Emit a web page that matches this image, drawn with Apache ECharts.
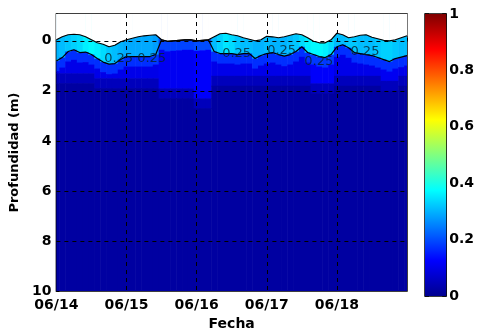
<!DOCTYPE html>
<html><head><meta charset="utf-8">
<script src="https://cdn.jsdelivr.net/npm/echarts@6/dist/echarts.min.js"></script>
<style>html,body{margin:0;padding:0;background:#fff}#c{width:477px;height:336px}</style>
</head><body><div id="c"></div>
<script>
// ---- data ----
const dayLabels = ['06/14','06/15','06/16','06/17','06/18'];
const dayHours = [24,48,72,96];
const depthTicks = [0,2,4,6,8,10];
const colorbarRange = [0,1];
const contourLevel = 0.25;
const hours = [0,2,4,6,8,10,12,14,16,18,20,22,24,26,28,30,32,34,36,38,40,42,44,46,48,50,52,54,56,58,60,62,64,66,68,70,72,74,76,78,80,82,84,86,88,90,92,94,96,98,100,102,104,106,108,110,112,114,116,118,120];
// top of the data (water surface), metres
const surface = [-0.04,-0.16,-0.24,-0.26,-0.24,-0.16,-0.04,0.08,0.14,0.24,0.18,0.04,-0.04,-0.10,-0.16,-0.20,-0.22,-0.24,-0.04,0.02,0.00,-0.02,-0.04,-0.04,0.00,-0.02,-0.04,-0.16,-0.28,-0.30,-0.24,-0.20,-0.12,-0.06,0.00,-0.04,-0.18,-0.16,-0.12,-0.16,-0.22,-0.28,-0.24,-0.12,0.02,0.08,0.08,-0.04,-0.30,-0.24,-0.12,-0.16,-0.22,-0.24,-0.14,-0.08,-0.02,0.00,-0.04,-0.12,-0.20];
// depth of the 0.25 contour, metres
const contour25 = [0.81,0.67,0.43,0.36,0.47,0.45,0.55,0.71,0.85,0.93,0.91,0.75,0.63,0.63,0.63,0.63,0.63,0.55,-0.04,0.02,0.00,-0.02,-0.04,-0.04,0.00,-0.02,-0.04,0.43,0.51,0.51,0.51,0.55,0.51,0.51,0.71,0.59,0.51,0.47,0.55,0.61,0.55,0.43,0.24,0.47,0.55,0.63,0.67,0.55,0.24,0.16,0.28,0.47,0.51,0.55,0.59,0.67,0.75,0.83,0.71,0.65,0.59];
// value above the contour
const upperVal = [0.30,0.31,0.32,0.33,0.34,0.36,0.37,0.36,0.34,0.32,0.31,0.30,0.29,0.29,0.29,0.29,0.29,0.28,0.21,0.21,0.21,0.21,0.21,0.21,0.21,0.21,0.21,0.31,0.33,0.35,0.34,0.32,0.31,0.31,0.30,0.30,0.31,0.30,0.30,0.30,0.31,0.32,0.34,0.36,0.37,0.37,0.36,0.34,0.31,0.31,0.32,0.32,0.31,0.31,0.31,0.32,0.33,0.33,0.32,0.31,0.31];
// value in the band just below the contour
const subVal = [0.17,0.17,0.17,0.17,0.17,0.17,0.17,0.17,0.17,0.17,0.17,0.17,0.17,0.17,0.17,0.17,0.17,0.18,0.19,0.19,0.19,0.19,0.19,0.19,0.20,0.20,0.20,0.17,0.17,0.17,0.17,0.17,0.17,0.17,0.17,0.17,0.17,0.17,0.17,0.17,0.17,0.17,0.17,0.17,0.18,0.18,0.18,0.18,0.17,0.17,0.17,0.17,0.17,0.17,0.17,0.17,0.17,0.17,0.17,0.17,0.17];
// depth reached by the mixed (lighter blue) water and its value
const mixDepth = [1.3,1.3,1.3,1.3,1.3,1.3,1.3,1.5,1.5,1.5,1.5,1.5,1.5,1.5,1.5,1.5,1.5,1.5,1.9,1.9,1.9,1.9,1.9,1.9,2.3,2.3,2.3,1.4,1.4,1.4,1.4,1.4,1.4,1.4,1.4,1.4,1.4,1.4,1.4,1.4,1.4,1.4,1.4,1.4,1.7,1.7,1.7,1.7,1.4,1.4,1.4,1.4,1.4,1.4,1.4,1.4,1.6,1.6,1.6,1.4,1.4];
const midVal = [0.10,0.10,0.10,0.10,0.10,0.10,0.10,0.10,0.10,0.10,0.10,0.10,0.10,0.10,0.10,0.10,0.10,0.10,0.11,0.11,0.11,0.11,0.11,0.11,0.12,0.12,0.12,0.10,0.10,0.10,0.10,0.10,0.10,0.10,0.10,0.10,0.10,0.10,0.10,0.10,0.10,0.10,0.10,0.10,0.12,0.12,0.12,0.12,0.10,0.10,0.10,0.10,0.10,0.10,0.10,0.10,0.11,0.11,0.11,0.10,0.10];
const subBand = 0.4;
const transBand = 0.4;
const transVal = 0.05;
const deepVal = 0.02;
// contour label positions [hour, depth]
const labelPts = [[21.3,0.71],[32.6,0.71],[61.7,0.51],[77.1,0.40],[89.8,0.83],[105.6,0.43]];
const jetColors = ['#00008F','#0000FF','#0080FF','#00FFFF','#80FF80','#FFFF00','#FF8000','#FF0000','#800000'];

const yMin = -1.07, yMax = 10, colW = 2;

// ---- build cells (layers per time column) ----
const cells = [];
for (let i = 0; i < hours.length; i++) {
  const c = contour25[i];
  const mTop = Math.max(mixDepth[i], c + subBand);
  const layers = [
    [yMin, c, upperVal[i]],
    [c, c + subBand, subVal[i]],
    [c + subBand, mixDepth[i], midVal[i]],
    [mTop, mTop + transBand, transVal],
    [mTop + transBand, yMax, deepVal]
  ];
  layers.forEach(l => { if (l[1] > l[0]) cells.push([hours[i], l[0], l[1], l[2]]); });
}
// segments of the surface, used to blank out the air above it
const surfSegs = [];
for (let i = 0; i < hours.length - 1; i++) surfSegs.push([hours[i], surface[i], hours[i + 1], surface[i + 1]]);

const font = 'DejaVu Sans';
const chart = echarts.init(document.getElementById('c'), null, {renderer: 'canvas'});
chart.setOption({
  animation: false,
  backgroundColor: '#fff',
  grid: [
    {left: 56, top: 14, width: 351, height: 280, show: true, borderColor: '#000', borderWidth: 1.5, backgroundColor: 'transparent'},
    {left: 425, top: 14, width: 25, height: 282, show: true, borderColor: '#000', borderWidth: 1.5}
  ],
  visualMap: {
    show: false, type: 'continuous', min: 0, max: 1, dimension: 3, seriesIndex: 0,
    inRange: {color: jetColors}
  },
  xAxis: [
    {gridIndex: 0, type: 'value', min: 0, max: 120, interval: 24,
     name: 'Fecha', nameLocation: 'middle', nameGap: 25,
     nameTextStyle: {color: '#000', fontWeight: 'bold', fontSize: 14, fontFamily: font},
     axisLine: {show: true, lineStyle: {color: '#000', width: 1.5}},
     axisTick: {show: true, inside: true, length: 3, lineStyle: {color: '#000'}},
     splitLine: {show: false},
     axisLabel: {color: '#000', fontWeight: 'bold', fontSize: 14, fontFamily: font, margin: 7,
       formatter: v => dayLabels[Math.round(v / 24)] !== undefined && v < 120 ? dayLabels[Math.round(v / 24)] : ''}},
    {gridIndex: 1, type: 'value', min: colorbarRange[0], max: colorbarRange[1], show: false}
  ],
  yAxis: [
    {gridIndex: 0, type: 'value', inverse: true, min: yMin, max: yMax,
     name: 'Profundidad (m)', nameLocation: 'middle', nameGap: 30,
     nameTextStyle: {color: '#000', fontWeight: 'bold', fontSize: 13, fontFamily: font},
     axisLine: {show: true, lineStyle: {color: '#000', width: 1.5}},
     axisTick: {show: true, inside: true, length: 3, customValues: depthTicks, lineStyle: {color: '#000'}},
     splitLine: {show: false},
     axisLabel: {color: '#000', fontWeight: 'bold', fontSize: 14, fontFamily: font, margin: 5, customValues: depthTicks}},
    {gridIndex: 1, type: 'value', min: 0, max: 1, interval: 0.2, position: 'left',
     axisLine: {show: false}, axisLabel: {show: false}, splitLine: {show: false},
     axisTick: {show: true, inside: true, length: 4, lineStyle: {color: '#000', width: 1.5}}},
    {gridIndex: 1, type: 'value', min: 0, max: 1, interval: 0.2, position: 'right',
     axisLine: {show: false}, splitLine: {show: false},
     axisTick: {show: true, inside: true, length: 4, lineStyle: {color: '#000', width: 1.5}},
     axisLabel: {color: '#000', fontWeight: 'bold', fontSize: 14, fontFamily: font, margin: 3}}
  ],
  series: [
    {
      type: 'custom', xAxisIndex: 0, yAxisIndex: 0, z: 1, clip: true,
      data: cells,
      renderItem: function (params, api) {
        const h = api.value(0);
        const p0 = api.coord([h - colW / 2, api.value(1)]);
        const p1 = api.coord([h + colW / 2, api.value(2)]);
        const rect = echarts.graphic.clipRectByRect(
          {x: p0[0], y: p0[1], width: p1[0] - p0[0] + 0.6, height: p1[1] - p0[1] + 0.6},
          {x: params.coordSys.x, y: params.coordSys.y, width: params.coordSys.width, height: params.coordSys.height});
        if (!rect) return;
        return {type: 'rect', shape: rect, style: {fill: api.visual('color')}};
      }
    },
    {
      type: 'custom', xAxisIndex: 0, yAxisIndex: 0, z: 2, clip: true,
      data: surfSegs,
      renderItem: function (params, api) {
        const a = api.coord([api.value(0), yMin]);
        const b = api.coord([api.value(0), api.value(1)]);
        const c = api.coord([api.value(2), api.value(3)]);
        const d = api.coord([api.value(2), yMin]);
        return {type: 'polygon', shape: {points: [[a[0] - 0.3, a[1] - 1], [b[0] - 0.3, b[1]], [c[0] + 0.3, c[1]], [d[0] + 0.3, d[1] - 1]]},
          style: {fill: '#fff'}};
      }
    },
    {
      type: 'line', xAxisIndex: 0, yAxisIndex: 0, z: 3, symbol: 'none',
      data: hours.map((h, i) => [h, surface[i]]),
      lineStyle: {color: '#000', width: 1.2}
    },
    {
      type: 'line', xAxisIndex: 0, yAxisIndex: 0, z: 4, symbol: 'none',
      data: hours.map((h, i) => [h, contour25[i]]),
      lineStyle: {color: '#000', width: 1.2},
      markLine: {
        silent: true, symbol: 'none', label: {show: false}, animation: false,
        lineStyle: {color: '#000', type: [4, 4], width: 1},
        data: dayHours.map(h => ({xAxis: h})).concat(depthTicks.slice(0, 5).map(d => ({yAxis: d})))
      }
    },
    {
      type: 'scatter', xAxisIndex: 0, yAxisIndex: 0, z: 5, symbolSize: 1,
      itemStyle: {color: 'rgba(0,0,0,0)'},
      data: labelPts,
      label: {show: true, position: 'inside', formatter: () => contourLevel.toFixed(2),
        color: '#06202c', fontSize: 13, fontFamily: font}
    },
    {
      type: 'custom', xAxisIndex: 1, yAxisIndex: 1, z: 2,
      data: [[colorbarRange[0], colorbarRange[1]]],
      renderItem: function (params, api) {
        const p0 = api.coord([colorbarRange[0], colorbarRange[1]]);
        const p1 = api.coord([colorbarRange[1], colorbarRange[0]]);
        return {type: 'rect', shape: {x: p0[0], y: p0[1], width: p1[0] - p0[0], height: p1[1] - p0[1]},
          style: {fill: new echarts.graphic.LinearGradient(0, 1, 0, 0,
            jetColors.map((c, k) => ({offset: k / (jetColors.length - 1), color: c})))}};
      }
    }
  ]
});
</script></body></html>
